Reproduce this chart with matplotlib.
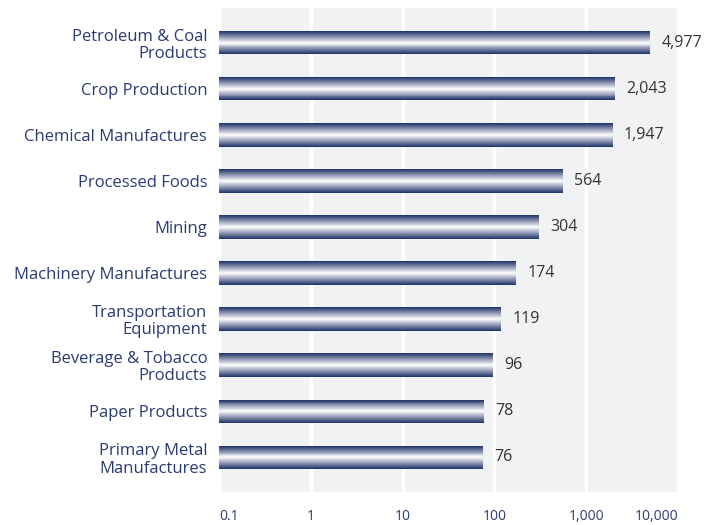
import matplotlib
matplotlib.use("Agg")
import matplotlib.pyplot as plt
import numpy as np
from matplotlib.colors import to_rgb
from matplotlib.ticker import FixedLocator, FixedFormatter, NullLocator

categories = ["Petroleum & Coal\nProducts", "Crop Production", "Chemical Manufactures",
              "Processed Foods", "Mining", "Machinery Manufactures",
              "Transportation\nEquipment", "Beverage & Tobacco\nProducts",
              "Paper Products", "Primary Metal\nManufactures"]
values = [4977, 2043, 1947, 564, 304, 174, 119, 96, 78, 76]
tick_values = [0.1, 1, 10, 100, 1000, 10000]
tick_labels = ["0.1", "1", "10", "100", "1,000", "10,000"]

FONT = ["Open Sans", "DejaVu Sans"]
plt.rcParams['font.family'] = FONT

navy = np.array(to_rgb("#1c2f66"))
white = np.array([1.0, 1.0, 1.0])
label_col = "#2b3b73"
val_col = "#333333"

fig = plt.figure(figsize=(7.19, 5.25), dpi=100)
ax = fig.add_axes([219/719, 1-492/525, (678-219)/719, (492-8)/525])
ax.set_facecolor("#f1f2f4")
ax.set_xscale("log")
ax.set_xlim(0.1, 10000)
ax.set_ylim(9.75, -0.75)

base = 0.1
bar_h = 0.51
n = 24
ypos = np.arange(len(categories))
for i in range(n):
    t = (i + 0.5) / n
    d = abs(t - 0.5) * 2  # 0 at center, 1 at edges
    c = navy * d + white * (1 - d)
    off = -bar_h / 2 + (i + 0.5) * bar_h / n
    ax.barh(ypos + off, [v - base for v in values], left=base, height=bar_h / n * 1.02,
            color=tuple(c), linewidth=0, zorder=3)

for y, v in zip(ypos, values):
    ax.annotate(f"{v:,}", xy=(v, y), xytext=(8, 0), textcoords="offset points",
                ha="left", va="center", fontsize=11.5, color=val_col, zorder=4)

ax.set_yticks(ypos)
ax.set_yticklabels(categories, fontsize=12, color=label_col, linespacing=1.1)
ax.tick_params(axis="y", length=0, pad=8.5)

ax.xaxis.set_major_locator(FixedLocator(tick_values))
ax.xaxis.set_major_formatter(FixedFormatter(tick_labels))
ax.xaxis.set_minor_locator(NullLocator())
ax.tick_params(axis="x", length=0, pad=12, labelsize=10, labelcolor=label_col)
for lab, ha in zip(ax.get_xticklabels(), ["left", "center", "center", "center", "center", "right"]):
    lab.set_ha(ha)

ax.grid(axis="x", color="white", linewidth=2.5, zorder=1)
ax.set_axisbelow(True)
for s in ax.spines.values():
    s.set_visible(False)

fig.savefig("out.png", dpi=100)
